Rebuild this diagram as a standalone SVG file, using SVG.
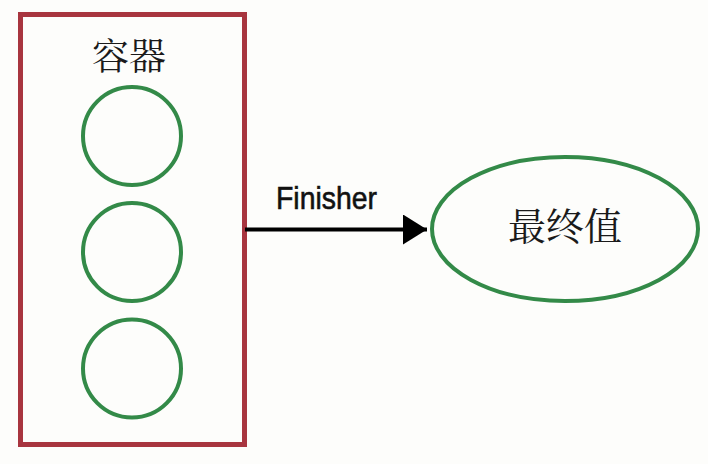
<svg xmlns="http://www.w3.org/2000/svg" width="708" height="464" viewBox="0 0 708 464">
<defs>
<style>
.green{fill:none;stroke:#338a48;stroke-width:4}
.cjk{font-family:"Noto Serif CJK SC","Noto Sans CJK SC",serif;font-size:37px;fill:#1a1a1a;text-anchor:middle}
.lbl{font-family:"Liberation Sans Narrow","Liberation Sans",sans-serif;font-size:32px;fill:#111;stroke:#111;stroke-width:0.6}
</style>
<marker id="arr" markerWidth="24" markerHeight="30" refX="24" refY="15" orient="auto" markerUnits="userSpaceOnUse">
<path d="M0,0 L24,15 L0,30 Z" fill="#000"/>
</marker>
</defs>
<rect width="708" height="464" fill="#fdfdfb"/>
<g id="container">
<rect x="20.5" y="14.5" width="224" height="430" fill="#fdfdfb" stroke="#a8353f" stroke-width="5"/>
<text class="cjk" x="129" y="70">容器</text>
</g>
<g id="item1"><circle class="green" cx="132" cy="136" r="49"/></g>
<g id="item2"><circle class="green" cx="132" cy="252" r="49"/></g>
<g id="item3"><circle class="green" cx="132" cy="368.5" r="49"/></g>
<g id="final">
<ellipse class="green" cx="565" cy="229" rx="133" ry="72"/>
<text class="cjk" x="565" y="240" style="font-size:38px">最终值</text>
</g>
<g id="connectors">
<line x1="245" y1="229.5" x2="427" y2="229.5" stroke="#000" stroke-width="4" marker-end="url(#arr)"/>
<text class="lbl" x="276" y="209" textLength="101" lengthAdjust="spacingAndGlyphs">Finisher</text>
</g>
</svg>
